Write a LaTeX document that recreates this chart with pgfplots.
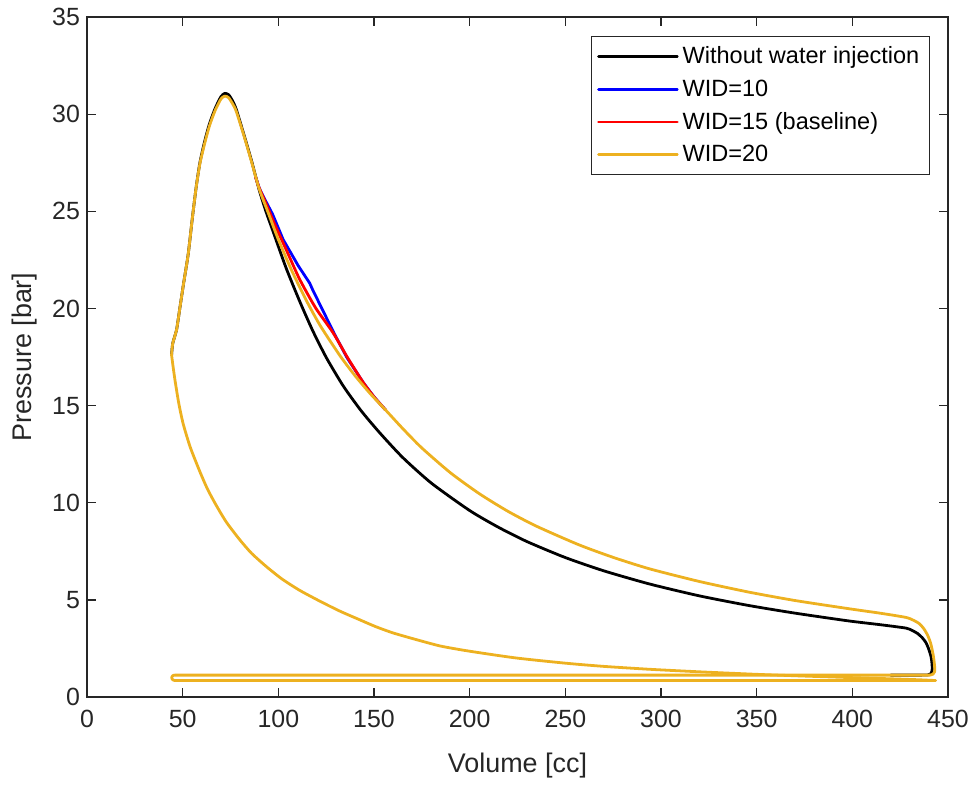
\documentclass[border=0pt]{standalone}
\usepackage{pgfplots}
\pgfplotsset{compat=1.18}
\usepackage{fontspec}
\setmainfont{Liberation Sans}
\usetikzlibrary{calc}
\definecolor{mlyellow}{rgb}{0.929,0.694,0.125}
\definecolor{axgray}{RGB}{38,38,38}

\begin{document}
\begin{tikzpicture}
\begin{axis}[
    name=ax,
    scale only axis,
    width=15.18cm, height=11.99cm,
    xmin=0, xmax=450, ymin=0, ymax=35,
    xtick={0,50,...,450}, ytick={0,5,...,35},
    tick align=inside,
    major tick length=0.16cm,
    axis line style={axgray, line width=0.6pt},
    tick style={axgray, line width=0.6pt},
    /pgf/number format/assume math mode=true,
    ticklabel style={font=\fontsize{12.5}{14}\selectfont, text=axgray},
    xticklabel style={yshift=-0.1cm},
    xlabel={Volume [cc]},
    ylabel={Pressure [bar]},
    label style={font=\fontsize{13.5}{16}\selectfont, text=axgray},
    xlabel style={at={(axis description cs:0.5,-0.1)}, anchor=center},
    ylabel style={at={(axis description cs:-0.072,0.5)}, anchor=center},
    legend style={at={(0.979,0.972)}, anchor=north east, draw=axgray,
        line width=0.6pt, font=\fontsize{11.8}{14}\selectfont,
        cells={anchor=west}, row sep=2.5pt, inner sep=3pt},
    legend image code/.code={\draw[#1, line width=1.4pt] (0cm,0cm) -- (1.39cm,0cm);},
    every axis plot/.append style={line width=1.4pt, line join=round, line cap=round},
]
% without water injection: combustion, expansion, blowdown
\addplot[black, smooth, tension=0.4] coordinates {
(44.2,17.6)(44.8,18.2)(46.8,18.9)(48.5,20.0)(50.5,21.3)(52.9,22.8)(55,24.6)
(57,26.2)(59,27.5)(61.5,28.6)(64,29.5)(67,30.3)(70,30.9)(72,31.07)(74,31.0)
(76,30.7)(78,30.25)(82,28.95)(86,27.6)(90,26.1)(93.5,25.0)(97.3,23.95)
(104,22.1)(111.2,20.36)(118,18.85)(125.2,17.45)(134,16.0)(143.4,14.72)
(153,13.6)(165,12.33)(180,11.01)(200,9.6)(215,8.74)(230,8.0)(250,7.18)
(270,6.5)(294,5.82)(320,5.21)(346,4.71)(370,4.32)(398,3.92)(415,3.72)
(428,3.55)(431,3.44)(434,3.28)(436.5,3.06)(438.5,2.8)(440,2.45)(441.2,2.05)
(441.7,1.65)(441.7,1.38)(441,1.2)(439.5,1.14)(436,1.13)(420,1.13)
};
\addlegendentry{Without water injection}
% WID=10
\addplot[blue] coordinates {
(88,26.8)(90,26.2)(93,25.6)(97,24.85)(102.5,23.55)(110.4,22.2)(116.4,21.3)
(118,20.95)(123,19.95)(129.5,18.65)(136,17.45)(144.3,16.2)(150,15.45)(156,14.78)
};
\addlegendentry{WID=10}
% WID=15
\addplot[red, smooth, tension=0.4] coordinates {
(88,26.8)(90,26.2)(94,25.3)(98,24.35)(104,23.05)(110.4,21.65)(114.7,20.85)
(120,19.95)(128.6,18.75)(136,17.5)(144.3,16.2)(150,15.45)(156,14.78)
};
\addlegendentry{WID=15 (baseline)}
% WID=20: exhaust and intake strokes
\addplot[mlyellow, forget plot] coordinates {
(440.5,1.13)(400,1.13)(200,1.13)(46,1.13)(45.2,1.12)(44.6,1.08)(44.25,1.0)
(44.6,0.91)(45.2,0.87)(46,0.85)(200,0.85)(443.5,0.85)
};
% WID=20: compression stroke
\addplot[mlyellow, smooth, tension=0.4, forget plot] coordinates {
(443.5,0.85)(435,0.89)(420,0.94)(400,1.0)(375,1.08)(350,1.17)(320,1.3)(294,1.43)
(270,1.58)(250.5,1.74)(224.4,2.01)(200,2.36)(185,2.62)(172,2.96)(160,3.3)
(151,3.62)(142,4.0)(132,4.43)(122,4.92)(111.2,5.49)(102,6.07)(93.8,6.71)
(86,7.4)(79.9,8.09)(73,8.98)(67.7,9.84)(63,10.7)(59,11.6)(54,12.85)
(50.3,14.05)(48,15.1)(46,16.3)(45,17.0)(44.2,17.6)
};
% WID=20: combustion, expansion, blowdown
\addplot[mlyellow, smooth, tension=0.4] coordinates {
(44.2,17.6)(44.8,18.2)(46.8,18.9)(48.5,20.0)(50.5,21.3)(52.9,22.8)(55,24.6)
(57,26.2)(59,27.45)(61.5,28.5)(64,29.4)(67,30.2)(70,30.78)(72,30.93)(74,30.85)
(76,30.55)(78,30.15)(82,28.9)(86,27.55)(90,26.15)(95,24.85)(100,23.55)
(107,21.95)(114.7,20.4)(122,19.1)(132,17.6)(140,16.55)(148,15.62)(156,14.78)
(165,13.82)(175,12.82)(190,11.54)(205,10.47)(220,9.56)(235,8.79)(257,7.84)
(275,7.19)(294,6.6)(320,5.95)(346,5.4)(370,4.97)(398,4.55)(415,4.31)
(428,4.1)(432,3.95)(435,3.78)(437.5,3.5)(439.5,3.15)(441,2.75)(442.3,2.15)
(443,1.6)(443,1.3)(442.2,1.18)(440.5,1.13)
};
\addlegendentry{WID=20}
\end{axis}
\path ($(ax.south west)+(-1.534cm,-1.551cm)$) rectangle ($(ax.north east)+(0.547cm,0.30cm)$);
\end{tikzpicture}
\end{document}
